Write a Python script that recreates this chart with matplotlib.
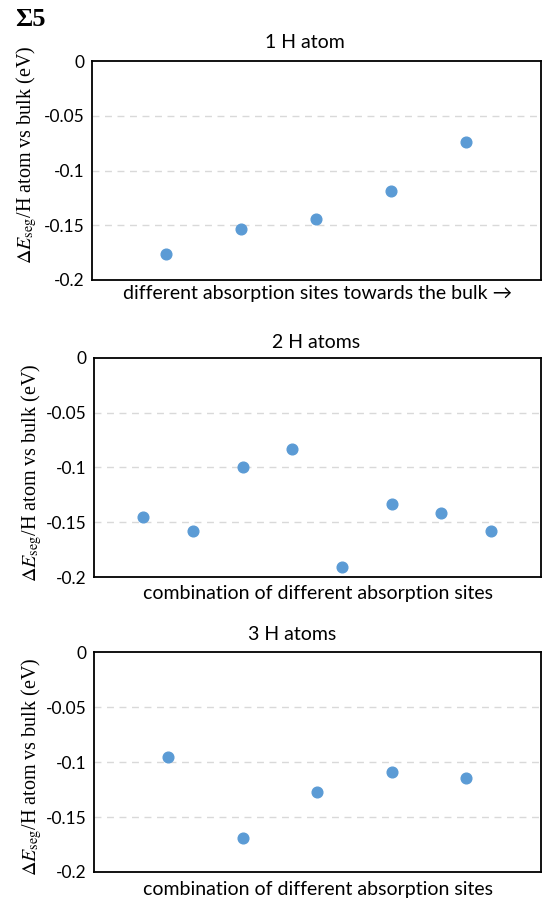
import numpy as np
import matplotlib
matplotlib.use("Agg")
import matplotlib.pyplot as plt

plt.rcParams['font.family'] = ['Lato', 'DejaVu Sans']
plt.rcParams['mathtext.fontset'] = 'stix'

# data
one_h = [-0.176, -0.153, -0.144, -0.119, -0.074]
two_h = [-0.145, -0.158, -0.0995, -0.083, -0.191, -0.133, -0.141, -0.158]
three_h = [-0.095, -0.169, -0.127, -0.109, -0.114]

titles = ["1 H atom", "2 H atoms", "3 H atoms"]
xlabels = ["different absorption sites towards the bulk \u2192",
           "combination of different absorption sites",
           "combination of different absorption sites"]
yticks = [0, -0.05, -0.1, -0.15, -0.2]
ytick_labels = ["0", "-0.05", "-0.1", "-0.15", "-0.2"]

W, H = 542, 900
fig = plt.figure(figsize=(W / 100, H / 100), dpi=100)

# (left, right, top, bottom) in pixels
boxes = [(91.6, 540.5, 61, 280), (93.7, 540.5, 357.7, 577.3), (93.7, 540.5, 652.3, 872)]
title_pos = [(305, 42), (316, 342), (292, 635)]
xlabel_pos = [(318, 294), (318, 593), (318, 889)]
ylabel_pos = [(27, 155), (32, 473), (32, 767)]

for i, vals in enumerate([one_h, two_h, three_h]):
    l, r, t, b = boxes[i]
    ax = fig.add_axes([l / W, 1 - b / H, (r - l) / W, (b - t) / H])
    x = np.arange(1, len(vals) + 1)
    ax.plot(x, vals, 'o', color='#5B9BD5', markersize=7.7, zorder=3)
    ax.set_xlim(0, len(vals) + 1)
    ax.set_ylim(-0.2, 0)
    ax.set_yticks(yticks)
    ax.set_yticklabels(ytick_labels, fontsize=12.5)
    ax.set_xticks([])
    ax.tick_params(axis='y', length=0, pad=5)
    for g in yticks[1:-1]:
        ax.axhline(g, color='#D9D9D9', lw=1, ls=(0, (5, 4)), zorder=1)
    for s in ax.spines.values():
        s.set_linewidth(1.3)
        s.set_color('black')

    fig.text(title_pos[i][0] / W, 1 - title_pos[i][1] / H, titles[i],
             ha='center', va='center', fontsize=14)
    fig.text(xlabel_pos[i][0] / W, 1 - xlabel_pos[i][1] / H, xlabels[i],
             ha='center', va='center', fontsize=14)
    fig.text(ylabel_pos[i][0] / W, 1 - ylabel_pos[i][1] / H,
             r'$\Delta E_{\rm seg}$/H atom vs bulk (eV)', rotation=90,
             ha='center', va='center', fontsize=14.5, family='Liberation Serif')

fig.text(15 / W, 1 - 19 / H, '\u03a35', fontsize=19, fontweight='bold',
         family='Liberation Serif', ha='left', va='center')

fig.savefig('out.png', dpi=100)
